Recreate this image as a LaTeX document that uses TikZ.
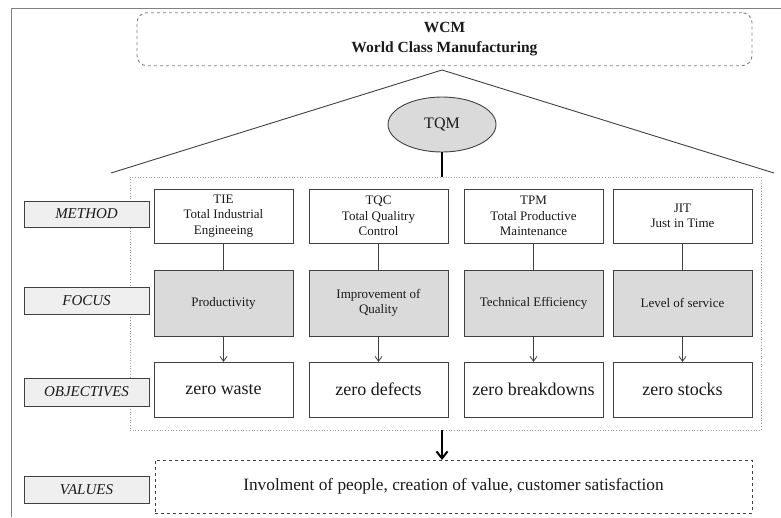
\documentclass[tikz,border=0pt]{standalone}
\usepackage{fontspec}
\setmainfont{Liberation Serif}
\usetikzlibrary{arrows.meta,shapes.geometric}
\definecolor{ln}{HTML}{404040}
\definecolor{txt}{HTML}{1A1A1A}
\definecolor{focusfill}{HTML}{DADADA}
\definecolor{labfill}{HTML}{EFEFEF}
\definecolor{dotc}{HTML}{9A9A9A}
\begin{document}
\begin{tikzpicture}[x=1pt,y=-1pt,
  every node/.style={inner sep=0pt,outer sep=0pt,text=txt,align=center},
  methbox/.style={draw=ln,line width=0.9pt,fill=white,minimum width=139pt,minimum height=54pt,
    font=\fontsize{13}{15.5}\selectfont},
  focbox/.style={draw=ln,line width=0.9pt,fill=focusfill,minimum width=139pt,minimum height=66pt,
    font=\fontsize{13}{15.5}\selectfont},
  objbox/.style={draw=ln,line width=0.9pt,fill=white,minimum width=139pt,minimum height=55pt,
    font=\fontsize{18}{21}\selectfont},
  labbox/.style={draw=ln,line width=1pt,fill=labfill,minimum width=125pt,minimum height=27pt,
    font=\fontsize{15}{18}\selectfont\itshape},
  link/.style={draw=ln,line width=0.8pt},
  arr/.style={draw=ln,line width=0.8pt,-{Straight Barb[length=5pt,width=7pt]}},
  thick link/.style={draw=black,line width=2.2pt},
]
\useasboundingbox (0,0) rectangle (781,517);
% outer frame (left and top edges)
\draw[draw=gray,line width=1pt] (11,517) -- (11,8) -- (781,8);

% WCM header
\node[draw=gray,dashed,line width=0.9pt,rounded corners=10pt,minimum width=615pt,minimum height=53pt,
  font=\fontsize{15.5}{19.5}\selectfont\bfseries] (wcm) at (444.5,39.2) {WCM\\World Class Manufacturing};

% roof
\coordinate (apex) at (442,70);
\coordinate (rl) at (111,173);
\coordinate (rr) at (774,173);
\draw[draw=ln,line width=0.9pt] (rl) -- (apex) -- (rr);

% container
\node[draw=dotc,dotted,line width=0.7pt,minimum width=631pt,minimum height=253pt] (cont) at (445.5,303.5) {};

% TQM
\node[ellipse,draw=ln,line width=0.9pt,fill=focusfill,minimum width=108pt,minimum height=55pt,
  font=\fontsize{16}{19}\selectfont] (tqm) at (442,124.5) {TQM};
\draw[thick link] (tqm.south) -- (cont.north -| tqm.south);

% row labels
\node[labbox,minimum height=26pt] (lmeth) at (86.5,214) {METHOD};
\node[labbox] (lfoc) at (86.5,300.5) {FOCUS};
\node[labbox,minimum height=28pt] (lobj) at (86.5,392) {OBJECTIVES};
\node[labbox] (lval) at (86.5,489.5) {VALUES};

% methods
\node[methbox] (m1) at (223.5,216) {TIE\\Total Industrial\\Engineeing};
\node[methbox] (m2) at (378.5,216) {TQC\\Total Qualitry\\Control};
\node[methbox] (m3) at (533.5,216) {TPM\\Total Productive\\Maintenance};
\node[methbox] (m4) at (682.5,216) {JIT\\Just in Time};

% focus
\node[focbox] (f1) at (223.5,303) {Productivity};
\node[focbox] (f2) at (378.5,303) {Improvement of\\Quality};
\node[focbox] (f3) at (533.5,303) {Technical Efficiency};
\node[focbox] (f4) at (682.5,303) {Level of service};

% objectives
\node[objbox] (o1) at (223.5,389.5) {zero waste};
\node[objbox] (o2) at (378.5,389.5) {zero defects};
\node[objbox] (o3) at (533.5,389.5) {zero breakdowns};
\node[objbox] (o4) at (682.5,389.5) {zero stocks};

\foreach \i in {1,2,3,4}{
  \draw[link] (m\i.south) -- (f\i.north);
  \draw[arr] (f\i.south) -- (o\i.north);
}

% values
\node[draw=ln,dashed,line width=0.8pt,minimum width=597pt,minimum height=53pt,
  font=\fontsize{17.3}{20}\selectfont] (vals) at (453.5,486.5)
  {Involment of people, creation of value, customer satisfaction};
\draw[draw=black,line width=2.2pt,-{Straight Barb[length=7pt,width=11pt,line width=2pt]}]
  (cont.south -| tqm.south) -- (vals.north -| tqm.south);
\end{tikzpicture}
\end{document}
